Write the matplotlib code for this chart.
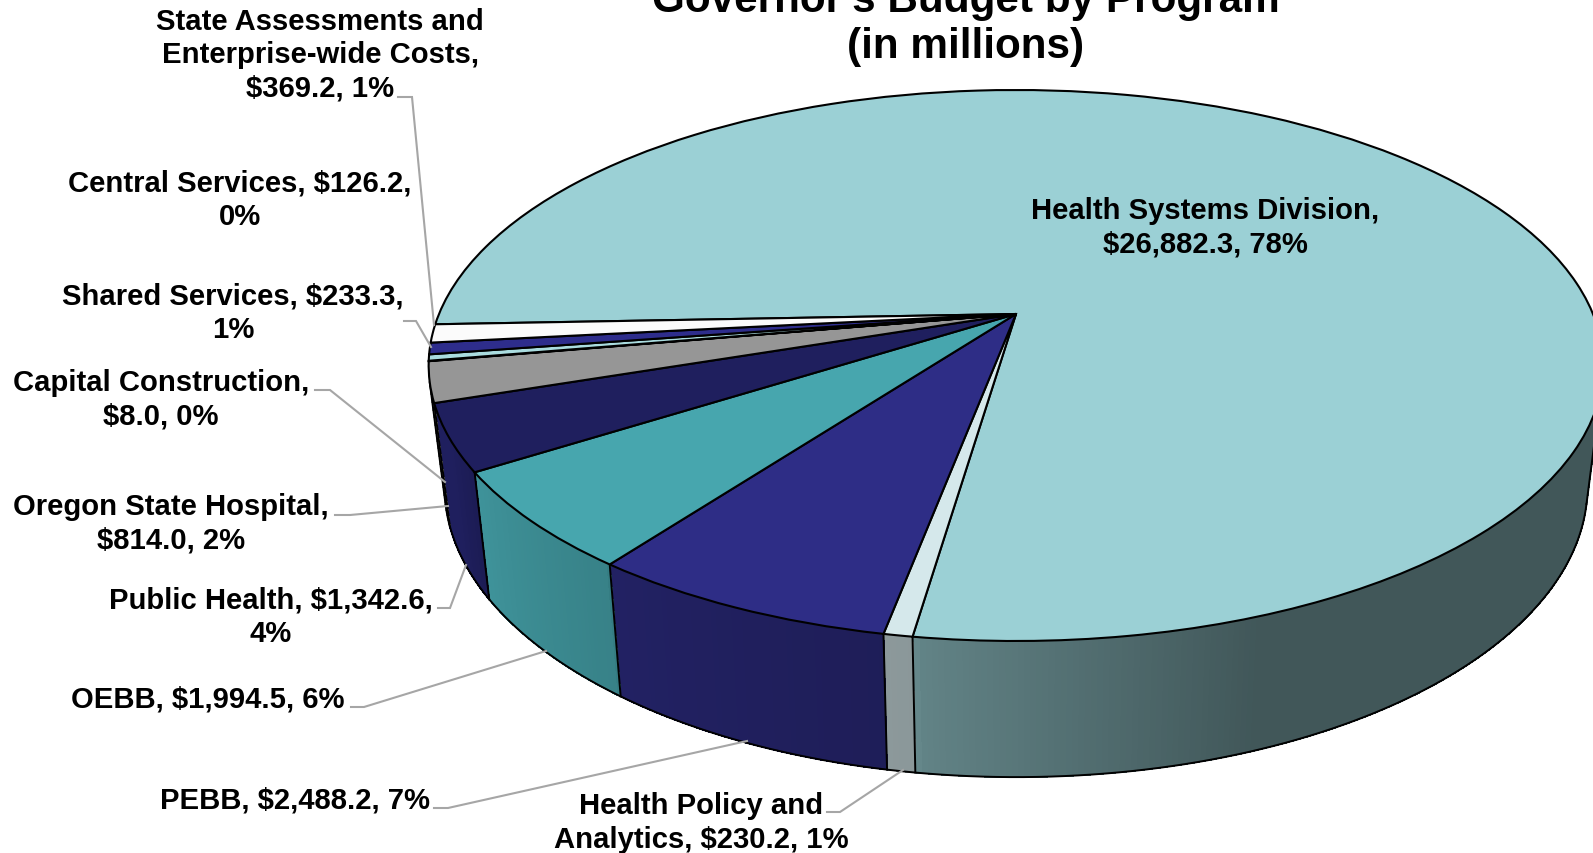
import numpy as np
import matplotlib
matplotlib.use("Agg")
import matplotlib.pyplot as plt
from matplotlib.collections import PolyCollection
from matplotlib.colors import to_rgb
from matplotlib.transforms import Transform

# ---- data -------------------------------------------------------------
programs = ["Health Systems Division", "Health Policy and Analytics", "PEBB", "OEBB",
            "Public Health", "Oregon State Hospital", "Capital Construction",
            "Central Services", "Shared Services", "State Assessments and Enterprise-wide Costs"]
values = [26882.3, 230.2, 2488.2, 1994.5, 1342.6, 814.0, 8.0, 126.2, 233.3, 369.2]
colors = ["#9BD0D5", "#D5E8EB", "#2E2D86", "#47A6AE", "#1F1F5E", "#969696",
          "#A9DCDF", "#AADCDF", "#2E2D8C", "#FBFBFB"]
labels = ["Health Systems Division,\n$26,882.3, 78%", "Health Policy and\nAnalytics, $230.2, 1%",
          "PEBB, $2,488.2, 7%", "OEBB, $1,994.5, 6%", "Public Health, $1,342.6,\n4%",
          "Oregon State Hospital,\n$814.0, 2%", "Capital Construction,\n$8.0, 0%",
          "Central Services, $126.2,\n0%", "Shared Services, $233.3,\n1%",
          "State Assessments and\nEnterprise-wide Costs,\n$369.2, 1%"]
title = "Governor's Budget by Program\n(in millions)"

# ---- layout -----------------------------------------------------------
W, H = 1593, 854
APEX_X, APEX_Y = 1016.0, 315.0
WIDTH, PY, PC = 577.0, -207.0, 0.1869      # projective view of the disc
KX, KY, Y0, YREF = 0.973, 1.054, 600.0, 473.0   # lower rim of the wall
START = 267.8                              # clock angle of the first slice
label_pos = [(1205, 228), (701, 823), (295, 801), (208, 700), (271, 617),
             (171, 524), (161, 400), (240, 200), (233, 313), (320, 55)]
leaders = [None,
           [(827, 813), (840, 813), (903, 771)],
           [(434, 809), (448, 809), (747, 742)],
           [(351, 708), (364, 708), (546, 652)],
           [(438, 609), (450, 609), (466, 566)],
           [(335, 516), (350, 516), (448, 507)],
           [(315, 391), (330, 391), (445, 483)],
           None,
           [(404, 322), (416, 322), (431, 348)],
           [(398, 98), (412, 98), (434, 326)]]
shade_phi = [100, 160, 188, 188.1, 217, 217.1, 237, 245, 300]
shade_val = [0.42, 0.42, 0.63, 0.65, 0.74, 0.78, 0.88, 1.0, 1.0]

plt.rcParams["font.family"] = ["Liberation Sans", "DejaVu Sans"]
plt.rcParams["font.weight"] = "bold"


def project(u, v):
    d = 1 + PC * np.asarray(v)
    return APEX_X + WIDTH * np.asarray(u) / d, (APEX_Y + PY * np.asarray(v)) / d


def lower(x, y):
    return APEX_X + (x - APEX_X) * KX, Y0 + KY * (y - YREF)


def rim(phi):
    r = np.radians(phi)
    return project(np.sin(r), np.cos(r))


class DiscView(Transform):
    input_dims = output_dims = 2
    is_separable = False
    has_inverse = False

    def transform_non_affine(self, values):
        values = np.asarray(values, float)
        return np.column_stack(project(values[:, 0], values[:, 1]))


fig = plt.figure(figsize=(W / 100, H / 100), dpi=100, facecolor="white")
ax = fig.add_axes([0, 0, 1, 1])

wedges, _ = ax.pie(values, colors=colors, startangle=90 - START, counterclock=False,
                   radius=1.0, wedgeprops=dict(edgecolor="black", linewidth=1.5))
view = DiscView() + ax.transData
for w in wedges:
    w.set_transform(view)
    w.set_zorder(3)

ax.set_aspect("auto")
ax.set_xlim(0, W)
ax.set_ylim(H, 0)
ax.axis("off")

# silhouette of the extruded disc
grid = np.arange(60, 300, 0.1)
tx, ty = rim(grid)
bx, by = lower(tx, ty)
cross = (bx - tx) * np.gradient(ty) - (by - ty) * np.gradient(tx)
sign_change = np.where(np.diff(np.sign(cross)) != 0)[0]
phi_r, phi_l = grid[sign_change[0]], grid[sign_change[-1]]

# walls
edges = START + np.concatenate([[0], np.cumsum(values)]) / np.sum(values) * 360
polys, cols = [], []
for i, c in enumerate(colors):
    for shift in (0, -360):
        a, b = max(edges[i] + shift, phi_r), min(edges[i + 1] + shift, phi_l)
        if a >= b:
            continue
        ph = np.linspace(a, b, int((b - a) / 0.5) + 2)
        x0, y0 = rim(ph)
        x1, y1 = lower(x0, y0)
        for k in range(len(ph) - 1):
            polys.append([(x0[k], y0[k]), (x0[k + 1], y0[k + 1]), (x1[k + 1], y1[k + 1]), (x1[k], y1[k])])
            f = np.interp((ph[k] + ph[k + 1]) / 2, shade_phi, shade_val)
            cols.append(tuple(np.array(to_rgb(c)) * f))
ax.add_collection(PolyCollection(polys, facecolors=cols, edgecolors=cols, linewidths=0.5,
                                 antialiaseds=False, zorder=1))

# wall outlines
ph = np.linspace(phi_r, phi_l, 400)
x0, y0 = rim(ph)
x1, y1 = lower(x0, y0)
ax.plot(x1, y1, color="black", lw=1.4, zorder=2)
ax.plot([x0[0], x1[0]], [y0[0], y1[0]], color="black", lw=1.4, zorder=2)
ax.plot([x0[-1], x1[-1]], [y0[-1], y1[-1]], color="black", lw=1.4, zorder=2)
for e in edges:
    e = e % 360
    if phi_r < e < phi_l:
        x0, y0 = rim(e)
        x1, y1 = lower(x0, y0)
        ax.plot([x0, x1], [y0, y1], color="black", lw=1.4, zorder=2)

# leader lines and labels
for path in leaders:
    if path:
        ax.plot(*zip(*path), color="#A6A6A6", lw=1.5, zorder=4, solid_joinstyle="miter")
for txt, (x, y) in zip(labels, label_pos):
    ax.text(x, y, txt, ha="center", va="center", fontsize=21.1, linespacing=1.23, color="black", zorder=5)

ax.text(966, 24, title, ha="center", va="center", fontsize=30.4, linespacing=1.22, color="black", zorder=5)

fig.savefig("out.png", dpi=100, facecolor="white")
